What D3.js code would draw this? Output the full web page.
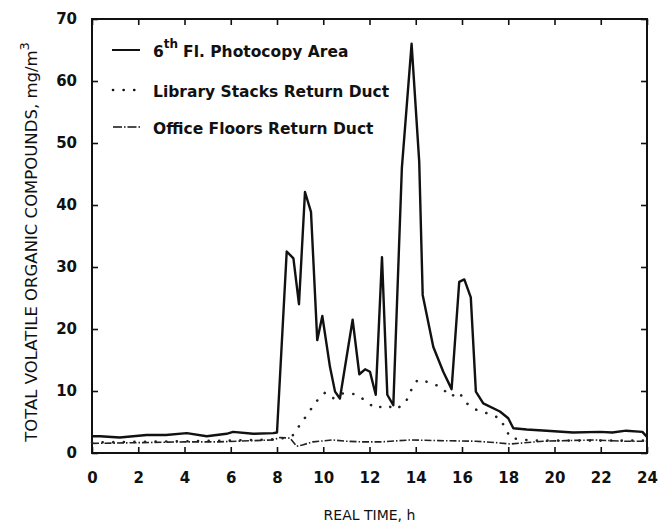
<!DOCTYPE html>
<html>
<head>
<meta charset="utf-8">
<script src="https://cdn.jsdelivr.net/npm/d3@7"></script>
<style>
  body { margin: 0; background: #fff; }
  text { font-family: "DejaVu Sans", sans-serif; fill: #111; }
  .tick text { font-weight: bold; font-size: 15px; }
</style>
</head>
<body>
<script>
// hours / TVOC (mg/m3)
var photoHours = [0, 0.35, 1.2, 2.36, 3.2, 4.1, 4.96, 5.82, 6.1, 6.97, 7.84, 8.0, 8.42, 8.71, 8.95, 9.21, 9.47, 9.74, 9.96, 10.29, 10.51, 10.72, 11.27, 11.56, 11.81, 12.02, 12.27, 12.54, 12.77, 13.03, 13.4, 13.82, 14.15, 14.3, 14.76, 15.19, 15.55, 15.88, 16.1, 16.38, 16.6, 16.92, 17.64, 18.0, 18.22, 18.8, 19.66, 20.8, 21.97, 22.5, 23.1, 23.8, 24];
var photoVals  = [2.7, 2.7, 2.5, 2.9, 2.9, 3.2, 2.7, 3.1, 3.4, 3.1, 3.2, 3.3, 32.5, 31.4, 24.0, 42.1, 38.9, 18.2, 22.1, 13.9, 9.9, 8.8, 21.5, 12.7, 13.5, 13.1, 9.4, 31.6, 9.4, 7.7, 46, 66, 47, 25.5, 17.1, 13.1, 10.3, 27.6, 28.0, 25.1, 9.9, 8.0, 6.7, 5.6, 4.0, 3.8, 3.6, 3.3, 3.4, 3.3, 3.6, 3.4, 2.6];

var libHours = [0, 2, 4, 6, 7.8, 8.3, 8.7, 9.0, 9.35, 9.67, 10.07, 10.4, 10.8, 11.4, 11.88, 12.24, 12.74, 13.15, 13.58, 13.82, 14.08, 14.6, 15.1, 15.5, 15.88, 16.17, 16.6, 17.18, 17.64, 18.1, 19, 21, 24];
var libVals  = [1.7, 1.8, 1.9, 2.0, 2.2, 2.4, 2.9, 4.6, 6.4, 8.2, 9.7, 8.8, 9.6, 9.5, 8.3, 7.2, 7.7, 7.0, 8.3, 10.3, 11.8, 11.4, 10.6, 9.1, 9.8, 8.1, 7.0, 6.3, 5.6, 2.4, 2.0, 2.0, 2.0];

var officeHours = [0, 1, 2.5, 4, 5.5, 7, 7.8, 8.13, 8.56, 8.85, 9.1, 9.56, 10.4, 11, 11.7, 12.5, 13.75, 15, 16.6, 17.4, 18.1, 19.5, 20.5, 21.7, 23, 24];
var officeVals  = [1.56, 1.6, 1.7, 1.8, 1.8, 2.0, 2.1, 2.5, 2.4, 1.1, 1.3, 1.8, 2.1, 1.9, 1.8, 1.8, 2.1, 2.0, 1.9, 1.7, 1.45, 1.9, 2.0, 2.1, 1.9, 1.9];

var xTicks = d3.range(0, 25, 2);
var yTicks = d3.range(0, 71, 10);
var legendLabels = ["Fl. Photocopy Area", "Library Stacks Return Duct", "Office Floors Return Duct"];

var W = 658, H = 524;
var svg = d3.select("body").append("svg").attr("width", W).attr("height", H);

var x = d3.scaleLinear().domain([0, 24]).range([92, 647]);
var y = d3.scaleLinear().domain([0, 70]).range([453, 19]);

// frame
svg.append("rect")
  .attr("x", x(0)).attr("y", y(70))
  .attr("width", x(24) - x(0)).attr("height", y(0) - y(70))
  .attr("fill", "none").attr("stroke", "#111").attr("stroke-width", 2);

// axes with inward ticks
var gx = svg.append("g").attr("transform", "translate(0," + y(0) + ")")
  .call(d3.axisBottom(x).tickValues(xTicks).tickSizeInner(-6).tickSizeOuter(0).tickPadding(25));
var gxTop = svg.append("g").attr("transform", "translate(0," + y(70) + ")")
  .call(d3.axisTop(x).tickValues(xTicks).tickSizeInner(-6).tickSizeOuter(0).tickFormat(""));
var gy = svg.append("g").attr("transform", "translate(" + x(0) + ",0)")
  .call(d3.axisLeft(y).tickValues(yTicks).tickSizeInner(-6).tickSizeOuter(0).tickPadding(15));
var gyR = svg.append("g").attr("transform", "translate(" + x(24) + ",0)")
  .call(d3.axisRight(y).tickValues(yTicks).tickSizeInner(-6).tickSizeOuter(0).tickFormat(""));

[gx, gxTop, gy, gyR].forEach(function(g){
  g.select(".domain").remove();
  g.selectAll(".tick line").attr("stroke", "#111").attr("stroke-width", 1.6);
});
gx.selectAll(".tick text").attr("dy", "0.35em");

// lines
var line = d3.line().x(function(d){ return x(d[0]); }).y(function(d){ return y(d[1]); });

function series(hours, vals){ return hours.map(function(h, i){ return [h, vals[i]]; }); }

svg.append("path").datum(series(officeHours, officeVals))
  .attr("d", line).attr("fill", "none").attr("stroke", "#222")
  .attr("stroke-width", 1.6).attr("stroke-dasharray", "7,2,1.5,2");

svg.append("path").datum(series(libHours, libVals))
  .attr("d", line).attr("fill", "none").attr("stroke", "#222")
  .attr("stroke-width", 2.6).attr("stroke-linecap", "round")
  .attr("stroke-dasharray", "0.1,10.5");

svg.append("path").datum(series(photoHours, photoVals))
  .attr("d", line).attr("fill", "none").attr("stroke", "#111")
  .attr("stroke-width", 2.4).attr("stroke-linejoin", "round");

// legend
var legY = [50, 90, 127];
var leg = svg.append("g");
leg.append("line").attr("x1", 112).attr("x2", 140).attr("y1", legY[0]).attr("y2", legY[0])
  .attr("stroke", "#111").attr("stroke-width", 2);
leg.append("line").attr("x1", 113).attr("x2", 140).attr("y1", legY[1]).attr("y2", legY[1])
  .attr("stroke", "#111").attr("stroke-width", 2.6).attr("stroke-linecap", "round")
  .attr("stroke-dasharray", "0.1,10.5");
leg.append("line").attr("x1", 113).attr("x2", 141).attr("y1", legY[2]).attr("y2", legY[2])
  .attr("stroke", "#111").attr("stroke-width", 1.6).attr("stroke-dasharray", "9,2,1.5,2");

var legFont = 15.5;
var t0 = leg.append("text").attr("x", 153).attr("y", legY[0] + 7).attr("font-size", legFont).attr("font-weight", "bold");
t0.append("tspan").text("6");
t0.append("tspan").attr("font-size", 12).attr("dy", -9).text("th");
t0.append("tspan").attr("dy", 9).attr("dx", 5).text(legendLabels[0]);
leg.append("text").attr("x", 153).attr("y", legY[1] + 7).attr("font-size", legFont).attr("font-weight", "bold").text(legendLabels[1]);
leg.append("text").attr("x", 153).attr("y", legY[2] + 7).attr("font-size", legFont).attr("font-weight", "bold").text(legendLabels[2]);

// axis titles
svg.append("text").attr("x", (x(0) + x(24)) / 2).attr("y", 520)
  .attr("text-anchor", "middle").attr("font-size", 14).text("REAL TIME, h");

var yt = svg.append("text")
  .attr("transform", "translate(37," + 242 + ") rotate(-90)")
  .attr("text-anchor", "middle").attr("font-size", 16.5);
yt.append("tspan").text("TOTAL VOLATILE ORGANIC COMPOUNDS, mg/m");
yt.append("tspan").attr("font-size", 13).attr("dy", -8).text("3");
</script>
</body>
</html>
